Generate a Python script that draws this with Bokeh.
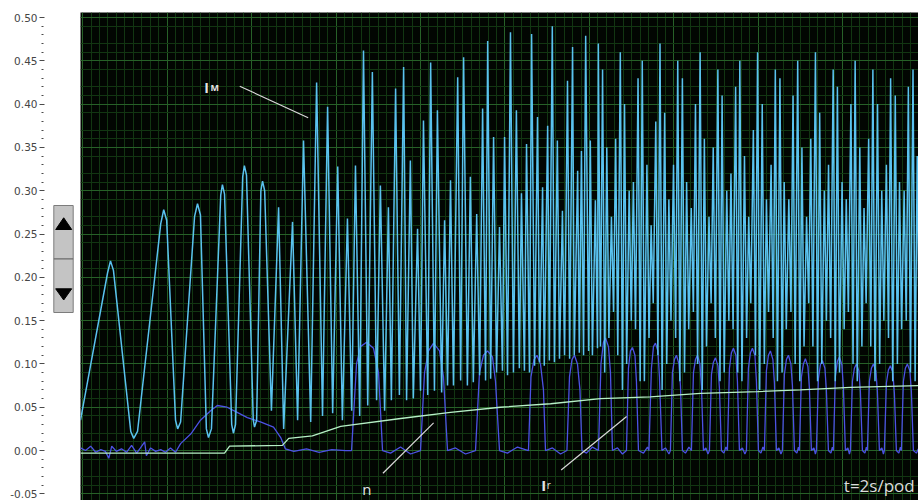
import numpy as np
from bokeh.plotting import figure
from bokeh.layouts import row
from bokeh.models import (Range1d, Grid, FixedTicker, SingleIntervalTicker,
                          NumeralTickFormatter)
from bokeh.core.properties import value
from bokeh.embed import file_html
from bokeh.resources import INLINE

# Time axis in seconds (2 s per division), currents and speed in per-unit.

# I_M: magnetising current, traced through its successive turning points
im_t = [-0.05, 0.59, 0.66, 0.73, 1.14, 1.21, 1.30, 1.85, 1.92, 1.99, 2.20, 2.25, 2.32,
        2.65, 2.72, 2.79, 2.93, 2.98, 3.05, 3.27, 3.31, 3.36, 3.53, 3.57, 3.62, 3.79,
        3.83, 3.88, 4.04, 4.07, 4.12, 4.22, 4.26, 4.31, 4.47, 4.64, 4.76, 4.97, 5.09,
        5.23, 5.40, 5.54, 5.68, 5.80, 5.92, 6.04, 6.15, 6.27, 6.37, 6.46, 6.56, 6.65,
        6.75, 6.86, 6.96, 7.05, 7.15, 7.24, 7.31, 7.41, 7.50, 7.60, 7.67, 7.76, 7.83,
        7.93, 8.00, 8.07, 8.17, 8.24, 8.33, 8.40, 8.50, 8.57, 8.64, 8.71, 8.78, 8.88,
        8.95, 9.02, 9.11, 9.18, 9.25, 9.33, 9.40, 9.47, 9.54, 9.59, 9.66, 9.73, 9.80,
        9.87, 9.94, 9.99, 10.06, 10.13, 10.20, 10.27, 10.34, 10.39, 10.46, 10.51, 10.58,
        10.63, 10.70, 10.77, 10.82, 10.89, 10.93, 11.01, 11.05, 11.12, 11.17, 11.24,
        11.29, 11.36, 11.41, 11.48, 11.53, 11.60, 11.64, 11.72, 11.76, 11.81, 11.86,
        11.91, 11.98, 12.02, 12.07, 12.14, 12.19, 12.21, 12.26,
        12.31, 12.36, 12.41, 12.46, 12.52, 12.57, 12.62, 12.67, 12.73, 12.78, 12.83,
        12.88, 12.94, 12.99, 13.04, 13.09, 13.15, 13.20, 13.25, 13.30, 13.36, 13.41,
        13.46, 13.51, 13.57, 13.62, 13.67, 13.72, 13.78, 13.83, 13.88, 13.93, 13.99,
        14.04, 14.09, 14.14, 14.20, 14.25, 14.30, 14.35, 14.41, 14.46, 14.51, 14.56,
        14.62, 14.67, 14.72, 14.77, 14.83, 14.88, 14.93, 14.98, 15.04, 15.09, 15.14,
        15.19, 15.25, 15.30, 15.35, 15.40, 15.46, 15.51, 15.56, 15.61, 15.67, 15.72,
        15.77, 15.82, 15.88, 15.93, 15.98, 16.03, 16.09, 16.14, 16.19, 16.24, 16.30,
        16.35, 16.40, 16.45, 16.51, 16.56, 16.61, 16.66, 16.72, 16.77, 16.82, 16.87,
        16.93, 16.98, 17.03, 17.08, 17.14, 17.19, 17.24, 17.29, 17.35, 17.40, 17.45,
        17.50, 17.56, 17.61, 17.66, 17.71, 17.77, 17.82, 17.87, 17.92, 17.98, 18.03,
        18.08, 18.13, 18.19, 18.24, 18.29, 18.34, 18.40, 18.45, 18.50, 18.55, 18.61,
        18.66, 18.71, 18.76, 18.82, 18.87, 18.92, 18.97, 19.03, 19.08, 19.13, 19.18,
        19.24, 19.29, 19.34, 19.39, 19.45, 19.50, 19.55, 19.60, 19.66, 19.71, 19.76,
        19.81]
im_v = [0.035, 0.205, 0.219, 0.208, 0.022, 0.014, 0.022, 0.262, 0.278, 0.266, 0.035,
        0.025, 0.033, 0.270, 0.285, 0.272, 0.025, 0.015, 0.025, 0.295, 0.307, 0.296,
        0.030, 0.020, 0.030, 0.316, 0.329, 0.318, 0.035, 0.027, 0.035, 0.300, 0.311,
        0.300, 0.046, 0.281, 0.025, 0.264, 0.035,
        0.358, 0.033, 0.425, 0.040, 0.397, 0.043, 0.328, 0.035, 0.268, 0.046, 0.329,
        0.040, 0.462, 0.052, 0.437, 0.058, 0.306, 0.046, 0.281, 0.058, 0.418, 0.064,
        0.443, 0.058, 0.335, 0.060, 0.256, 0.069, 0.381, 0.064, 0.448, 0.069, 0.393,
        0.067, 0.266, 0.075, 0.312, 0.075, 0.431, 0.081, 0.454, 0.075, 0.316, 0.079,
        0.273, 0.087, 0.395, 0.081, 0.473, 0.083, 0.362, 0.090, 0.258, 0.092, 0.362,
        0.087, 0.483, 0.090, 0.393, 0.095, 0.297, 0.092, 0.354, 0.090, 0.481, 0.098,
        0.385, 0.102, 0.304, 0.098, 0.375, 0.104, 0.490, 0.102, 0.358, 0.106, 0.277,
        0.110, 0.427, 0.106, 0.466, 0.110, 0.323, 0.113, 0.346, 0.110, 0.479, 0.115,
        0.358, 0.110, 0.289, 0.118, 0.470, 0.120,
        0.44, 0.09, 0.35, 0.13, 0.27, 0.16, 0.36, 0.11, 0.46, 0.07, 0.40, 0.10, 0.30,
        0.15, 0.31, 0.14, 0.43, 0.08, 0.45, 0.08, 0.33, 0.13, 0.26, 0.17, 0.38, 0.11,
        0.47, 0.07, 0.39, 0.10, 0.29, 0.15, 0.33, 0.13, 0.45, 0.08, 0.43, 0.09, 0.31,
        0.14, 0.28, 0.16, 0.40, 0.10, 0.46, 0.07, 0.36, 0.12, 0.27, 0.17, 0.35, 0.13,
        0.44, 0.08, 0.41, 0.09, 0.30, 0.15, 0.32, 0.14, 0.42, 0.09, 0.45, 0.08, 0.34,
        0.13, 0.27, 0.17, 0.37, 0.11, 0.46, 0.07, 0.40, 0.10, 0.29, 0.16, 0.33, 0.13,
        0.44, 0.08, 0.43, 0.09, 0.31, 0.14, 0.29, 0.16, 0.41, 0.10, 0.45, 0.08, 0.35,
        0.12, 0.27, 0.17, 0.36, 0.12, 0.46, 0.08, 0.39, 0.10, 0.30, 0.15, 0.33, 0.13,
        0.44, 0.08, 0.42, 0.09, 0.31, 0.14, 0.29, 0.16, 0.40, 0.10, 0.45, 0.08, 0.35,
        0.12, 0.28, 0.17, 0.36, 0.12, 0.44, 0.08, 0.40, 0.10, 0.30, 0.15, 0.33, 0.13,
        0.43, 0.08, 0.41, 0.10, 0.31, 0.14, 0.30, 0.15, 0.42, 0.09, 0.44, 0.08, 0.34,
        0.12]

# I_r: rotor current
ir_t = [-0.05, 0.07, 0.19, 0.31, 0.43, 0.54, 0.62, 0.69, 0.80, 0.92, 1.04, 1.16, 1.28,
        1.37, 1.47, 1.51, 1.61, 1.73, 1.85, 1.96, 2.08, 2.20, 2.32, 2.56, 2.79, 3.03,
        3.19, 3.42, 3.66, 3.90, 4.21, 4.52, 4.69, 4.80, 5.00, 5.30, 5.60, 5.90, 6.23,
        6.367, 6.485, 6.580, 6.722, 6.888, 7.006, 7.101, 7.290, 7.527, 7.763,
        8.000, 8.095, 8.189, 8.308, 8.450, 8.544, 8.639, 8.828, 9.065,
        9.302, 9.396, 9.491, 9.586, 9.704, 9.775, 9.870, 10.059, 10.296,
        10.556, 10.615, 10.686, 10.757, 10.840, 10.911, 10.959, 11.124, 11.314,
        11.467, 11.527, 11.586, 11.645, 11.716, 11.775, 11.822, 11.929, 12.071,
        12.213, 12.272, 12.331, 12.379, 12.450, 12.497, 12.544, 12.663, 12.781,
        12.876, 12.923, 12.970, 13.018, 13.077, 13.112, 13.160, 13.278, 13.373,
        13.408, 13.467, 13.515, 13.562, 13.621, 13.657, 13.716, 13.799, 13.882,
        13.917, 13.964, 14.012, 14.059, 14.118, 14.154, 14.201, 14.272, 14.355,
        14.414, 14.462, 14.509, 14.556, 14.615, 14.651, 14.698, 14.757, 14.805,
        14.840, 14.888, 14.935, 14.982, 15.041, 15.077, 15.124, 15.183, 15.231,
        15.266, 15.314, 15.361, 15.408, 15.467, 15.503, 15.550, 15.621, 15.680,
        15.716, 15.763, 15.811, 15.858, 15.917, 15.953, 16.000, 16.059, 16.107,
        16.142, 16.189, 16.237, 16.284, 16.343, 16.379, 16.426, 16.485, 16.533,
        16.568, 16.615, 16.663, 16.710, 16.769, 16.805, 16.852, 16.911, 16.947,
        16.970, 17.018, 17.065, 17.112, 17.172, 17.207, 17.254, 17.314, 17.349,
        17.373, 17.420, 17.467, 17.515, 17.574, 17.609, 17.657, 17.716, 17.751,
        17.775, 17.822, 17.870, 17.917, 17.976, 18.012, 18.059, 18.118, 18.154,
        18.178, 18.225, 18.272, 18.320, 18.379, 18.414, 18.462, 18.521, 18.556,
        18.580, 18.627, 18.675, 18.722, 18.781, 18.817, 18.864, 18.923, 18.959,
        18.982, 19.030, 19.077, 19.124, 19.183, 19.219, 19.266, 19.325, 19.361,
        19.385, 19.432, 19.479, 19.527, 19.586, 19.621, 19.669, 19.740, 19.787]
ir_v = [0.003, 0.000, 0.005, -0.002, 0.001, -0.001, -0.009, 0.005, -0.001, 0.002, -0.002,
        0.006, -0.003, 0.003, 0.010, -0.006, 0.003, -0.001, 0.001, -0.002, 0.003, -0.002,
        0.008, 0.019, 0.035, 0.046, 0.052, 0.050, 0.044, 0.038, 0.033, 0.027, 0.015, 0.002,
        -0.001, 0.002, -0.002, 0.001, 0.000,
        0.000, 0.100, 0.120, 0.125, 0.118, 0.090, 0.000, -0.003, 0.004, -0.004,
        0.000, 0.090, 0.115, 0.124, 0.115, 0.085, 0.000, 0.003, -0.004,
        0.000, 0.090, 0.110, 0.115, 0.108, 0.080, 0.000, -0.003, 0.004,
        0.000, 0.085, 0.105, 0.110, 0.100, 0.070, 0.000, 0.003, -0.004,
        0.000, 0.085, 0.105, 0.110, 0.100, 0.070, 0.000, -0.003, 0.004,
        0.000, 0.100, 0.125, 0.130, 0.120, 0.090, 0.000, 0.003, -0.004,
        0.000, 0.095, 0.115, 0.119, 0.110, 0.080, 0.000, -0.003, 0.004,
        0.000, 0.095, 0.120, 0.124, 0.115, 0.085, 0.000, 0.003, -0.004,
        0.000, 0.090, 0.105, 0.110, 0.100, 0.075, 0.000, -0.003, 0.004,
        0.000, 0.090, 0.105, 0.110, 0.100, 0.075, 0.000, 0.003, -0.004,
        0.000, 0.088, 0.102, 0.107, 0.098, 0.072, 0.000, -0.003, 0.004,
        0.000, 0.095, 0.113, 0.118, 0.110, 0.080, 0.000, 0.003, -0.004,
        0.000, 0.095, 0.113, 0.118, 0.110, 0.080, 0.000, -0.003, 0.004,
        0.000, 0.092, 0.110, 0.115, 0.105, 0.078, 0.000, 0.003, -0.004,
        0.000, 0.088, 0.105, 0.110, 0.100, 0.075, 0.000, -0.003, 0.004,
        0.000, 0.085, 0.100, 0.106, 0.097, 0.072, 0.000, 0.003, -0.004,
        0.000, 0.083, 0.099, 0.104, 0.095, 0.070, 0.000, -0.003, 0.004,
        0.000, 0.086, 0.103, 0.108, 0.099, 0.073, 0.000, 0.003, -0.004,
        0.000, 0.080, 0.095, 0.100, 0.092, 0.068, 0.000, -0.003, 0.004,
        0.000, 0.080, 0.095, 0.100, 0.092, 0.068, 0.000, 0.003, -0.004,
        0.000, 0.078, 0.093, 0.098, 0.090, 0.066, 0.000, -0.003, 0.004,
        0.000, 0.080, 0.095, 0.100, 0.092, 0.068, 0.000, -0.003, 0.002]

# n: speed
n_t = [-0.05, 3.36, 3.48, 4.73, 4.88, 5.44, 6.11, 7.53, 8.71, 9.89, 11.08, 12.26, 13.44,
       14.63, 15.98, 16.99, 18.18, 19.79]
n_v = [-0.003, -0.003, 0.005, 0.006, 0.014, 0.017, 0.028, 0.037, 0.044, 0.050, 0.054,
       0.060, 0.062, 0.066, 0.068, 0.070, 0.073, 0.075]

y_range = Range1d(-0.0577, 0.5058)
x_range = Range1d(-0.05, 19.79)

# --- scope screen ---
p = figure(width=838, height=500, x_range=x_range, y_range=y_range,
           x_axis_location=None, y_axis_location=None,
           output_backend="svg", toolbar_location=None,
           min_border_left=0, min_border_right=0, min_border_top=12, min_border_bottom=0,
           background_fill_color="#020602", border_fill_color="white",
           outline_line_color=None)
p.center = []

x_major = [2.0 * k for k in range(0, 11)]
x_minor = [round(0.2 * k, 2) for k in range(0, 100) if k % 10]
y_major = [round(-0.05 + 0.05 * k, 2) for k in range(12)]
y_minor = [round(-0.06 + 0.01 * k, 2) for k in range(58) if (k + 1) % 5]

for dim, major, minor in ((0, x_major, x_minor), (1, y_major, y_minor)):
    g = Grid(dimension=dim, ticker=FixedTicker(ticks=major, minor_ticks=minor),
             grid_line_color="#276128", grid_line_width=1,
             minor_grid_line_color="#123612", minor_grid_line_width=1)
    p.add_layout(g, "center")

p.line(ir_t, ir_v, line_color="#4c52e4", line_width=1.3)
p.line(im_t, im_v, line_color="#5ac2ef", line_width=1.5)
p.line(n_t, n_v, line_color="#b6f0c6", line_width=1.3)

# leader lines for the trace labels
p.segment(x0=[3.72, 7.11, 11.33], y0=[0.4207, -0.0262, -0.0225],
          x1=[5.34, 8.31, 12.88], y1=[0.3842, 0.0320, 0.0393],
          line_color="#d8d8d8", line_width=1.2)

font = value("Open Sans")
p.text(x=[2.88], y=[0.4195], text=["I"], text_font=font, text_font_size="14px",
       text_font_style="bold", text_color="#e4e4e4", text_baseline="alphabetic")
p.text(x=[3.03], y=[0.4195], text=["M"], text_font=font, text_font_size="9px",
       text_font_style="bold", text_color="#e4e4e4", text_baseline="alphabetic")
p.text(x=[6.62], y=[-0.0439], text=["n"], text_font=font, text_font_size="15px",
       text_color="#e4e4e4", text_baseline="alphabetic")
p.text(x=[10.86], y=[-0.0393], text=["I"], text_font=font, text_font_size="15px",
       text_font_style="bold", text_color="#e4e4e4", text_baseline="alphabetic")
p.text(x=[10.99], y=[-0.0393], text=["r"], text_font=font, text_font_size="10px",
       text_color="#e4e4e4", text_baseline="alphabetic")
p.text(x=[19.70], y=[-0.0404], text=["t=2s/pod"], text_font=font,
       text_font_size="17px", text_color="#dcdcdc", text_baseline="alphabetic",
       text_align="right")

# --- value scale with scroll buttons ---
ax = figure(width=80, height=500, x_range=Range1d(0, 36), y_range=y_range,
            x_axis_location=None, y_axis_location="left",
            output_backend="svg", toolbar_location=None,
            min_border_left=44, min_border_right=0, min_border_top=12, min_border_bottom=0,
            background_fill_color="white", border_fill_color="white",
            outline_line_color=None)
ax.center = []
ya = ax.yaxis[0]
ya.ticker = SingleIntervalTicker(interval=0.05, num_minor_ticks=5)
ya.formatter = NumeralTickFormatter(format="0.00")
ya.axis_line_color = None
ya.major_tick_in = 0
ya.major_tick_out = 5
ya.minor_tick_in = -1
ya.minor_tick_out = 3
ya.major_tick_line_color = "#4a4a4a"
ya.minor_tick_line_color = "#4a4a4a"
ya.major_label_standoff = 2
ya.major_label_text_font = "DejaVu Sans"
ya.major_label_text_font_size = "10.5px"
ya.major_label_text_color = "#454545"

ax.extra_y_ranges = {"px": Range1d(500, 12)}
ax.quad(left=[9.3], right=[28.7], top=[205], bottom=[312], y_range_name="px",
        fill_color="#c4c4c4", line_color="#7c7c7c", line_width=1)
ax.segment(x0=[9.3], y0=[258.3], x1=[28.7], y1=[258.3], y_range_name="px",
           line_color="#6a6a6a", line_width=1.2)
ax.patches(xs=[[19.2, 11.2, 27.2], [11.2, 27.2, 19.2]],
           ys=[[217.3, 229.0, 229.0], [288.3, 288.3, 299.5]], y_range_name="px",
           fill_color="black", line_color="black")

layout = row(ax, p, spacing=0)
open("out.html", "w").write(file_html(layout, INLINE))
